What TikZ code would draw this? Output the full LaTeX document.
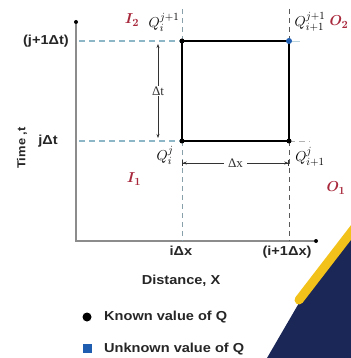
\documentclass[tikz,border=0pt]{standalone}
\usepackage{fontspec}
\usepackage{bm}
\setmainfont{Liberation Serif}
\setsansfont[FakeStretch=1.12]{Liberation Sans}
\usetikzlibrary{arrows.meta}
\definecolor{dashblue}{HTML}{8DB6C6}
\definecolor{iored}{HTML}{A8283C}
\definecolor{navy}{HTML}{1B2757}
\definecolor{ylw}{HTML}{F2C21B}
\definecolor{qblue}{HTML}{1E5DB0}
\begin{document}
\begin{tikzpicture}[x=1pt,y=-1pt,
  lab/.style={font=\sffamily\bfseries\fontsize{13}{14}\selectfont, text=black!85, inner sep=1pt},
  qlab/.style={font=\fontsize{15}{16}\selectfont, inner sep=1pt},
  io/.style={font=\fontsize{15}{16}\selectfont, text=iored, inner sep=1pt},
  dot/.style={circle, fill=black, inner sep=0pt, minimum size=5pt},
  enddot/.style={circle, fill=black, inner sep=0pt, minimum size=4pt},
  axis/.style={black!45, line width=1.6pt},
  hdash/.style={dashblue, line width=1.1pt, dash pattern=on 6pt off 4pt},
  vdashl/.style={dashblue!60!gray, line width=0.9pt, dash pattern=on 5pt off 4pt},
  vdashr/.style={black!65, line width=0.9pt, dash pattern=on 5pt off 4pt},
  boxline/.style={black, line width=1.1pt},
  dim/.style={black!80, line width=0.7pt},
  dimlab/.style={fill=white, font=\fontsize{13}{14}\selectfont}]
\useasboundingbox (0,0) rectangle (350,358);
% background decoration
\fill[navy] (267,358) -- (299,303) -- (352,236) -- (352,358) -- cycle;
\draw[ylw, line width=9pt, line cap=round] (299,300) -- (356,226);
% axes
\node[enddot] (ytop) at (76,22) {};
\node[enddot] (xend) at (316,241) {};
\coordinate (O) at (76,241);
\draw[axis] (ytop) -- (O) -- (xend);
% grid corners
\coordinate (A) at (182,141);
\coordinate (B) at (289,141);
\coordinate (C) at (182,41);
\coordinate (D) at (289,41);
\coordinate (hl1) at (79,41);
\coordinate (hl0) at (79,141);
\coordinate (hr0) at (310,141);
\coordinate (hr1) at (300,41);
\coordinate (vt0) at (182,9);
\coordinate (vt1) at (289,9);
\coordinate (vb0) at (182,241);
\coordinate (vb1) at (289,241);
\draw[hdash] (hl1) -- (C);
\draw[hdash] (hl0) -- (A);
\draw[black!30, line width=0.8pt, dash pattern=on 6pt off 4pt] (B) -- (hr0);
\draw[dashblue!60, line width=0.8pt] (D) -- (hr1);
\draw[vdashl] (vt0) -- (C);
\draw[vdashl] (A) -- (vb0);
\draw[vdashr] (vt1) -- (D);
\draw[vdashr] (B) -- (vb1);
\draw[boxline] (A) -- (B) -- (D) -- (C) -- cycle;
\node[dot] (nA) at (A) {};
\node[dot] (nB) at (B) {};
\node[dot] (nC) at (C) {};
\node[circle, fill=qblue, inner sep=0pt, minimum size=6pt] (nD) at (D) {};
% dimension arrows
\coordinate (dtT) at (158,44);
\coordinate (dtB) at (158,138);
\draw[dim, {Stealth[length=4pt,width=3pt]}-{Stealth[length=4pt,width=3pt]}] (dtT) -- node[dimlab, inner sep=1pt] (dt) {Δt} (dtB);
\coordinate (dxL) at (182,163);
\coordinate (dxR) at (289,163);
\draw[dim, {Bar[width=6pt]Stealth[length=4pt,width=3pt]}-{Stealth[length=4pt,width=3pt]Bar[width=6pt]}] (dxL) -- node[dimlab, inner sep=4pt] (dx) {Δx} (dxR);
% Q labels
\node[qlab] (q1) at (164,22) {$Q_i^{j+1}$};
\node[qlab] (q2) at (310,22) {$Q_{i+1}^{j+1}$};
\node[qlab] (q3) at (165,155) {$Q_i^j$};
\node[qlab] (q4) at (310,157) {$Q_{i+1}^j$};
% inflow / outflow
\node[io] (I2) at (132,20) {$\bm{I_2}$};
\node[io] (I1) at (134,179) {$\bm{I_1}$};
\node[io] (O2) at (339,22) {$\bm{O_2}$};
\node[io] (O1) at (336,188) {$\bm{O_1}$};
% axis labels
\node[lab, anchor=east] (tj1) at (70,41) {(j+1Δt)};
\node[lab] (tj) at (48,141) {jΔt};
\node[lab, rotate=90, font=\sffamily\bfseries\fontsize{11.5}{12}\selectfont] (time) at (22,148) {Time ,t};
\node[lab] (xi) at (181,251) {iΔx};
\node[lab] (xi1) at (287,252) {(i+1Δx)};
\node[lab] (dist) at (181,281) {Distance, X};
% legend
\node[dot, minimum size=9pt] (kdot) at (87,317) {};
\node[lab, anchor=west] (ktext) at (103,317) {Known value of Q};
\node[fill=qblue, inner sep=0pt, minimum size=9pt] (usq) at (87,348) {};
\node[lab, anchor=west] (utext) at (103,349) {Unknown value of Q};
\end{tikzpicture}
\end{document}
